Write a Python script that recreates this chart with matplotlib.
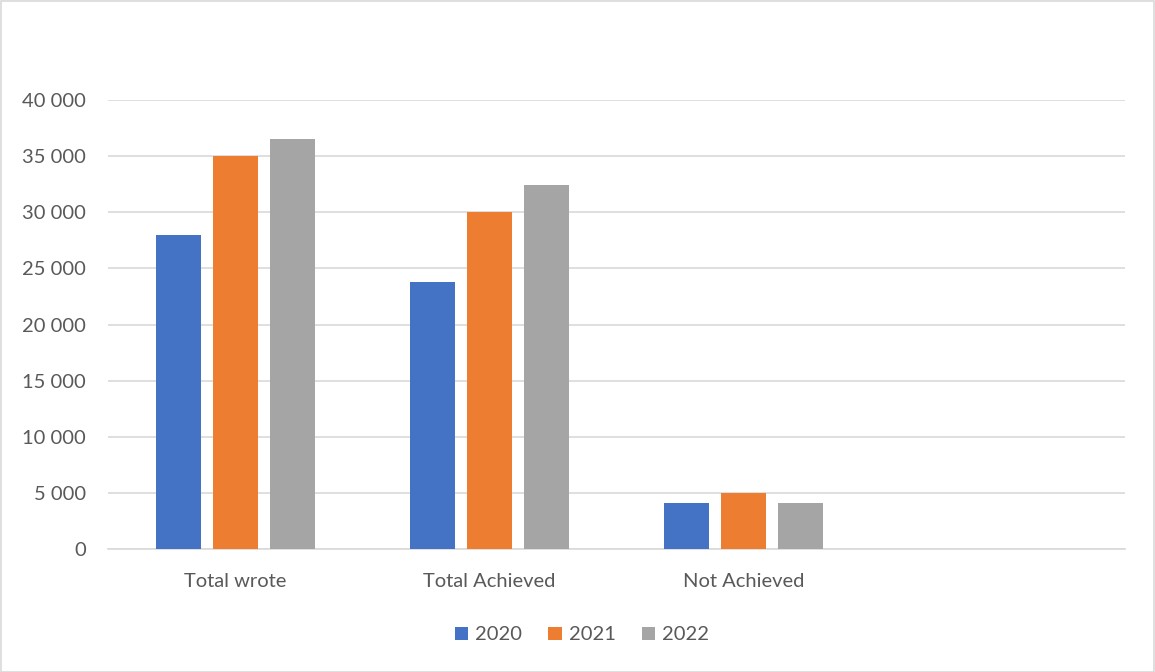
import matplotlib
matplotlib.use("Agg")
import matplotlib.pyplot as plt
import numpy as np
from matplotlib.ticker import FuncFormatter
from matplotlib.patches import Rectangle

categories = ["Total wrote", "Total Achieved", "Not Achieved", ""]
years = ["2020", "2021", "2022"]
v2020 = [27950, 23750, 4100, 0]
v2021 = [35050, 30000, 5000, 0]
v2022 = [36570, 32400, 4100, 0]
colors = ["#4472C4", "#ED7D31", "#A5A5A5"]

plt.rcParams['font.family'] = ['Lato', 'DejaVu Sans']
W, H = 1155, 672
fig = plt.figure(figsize=(W / 100, H / 100), dpi=100)
fig.patches.append(Rectangle((0.5 / W, 0.5 / H), 1 - 1.5 / W, 1 - 1.5 / H, transform=fig.transFigure,
                             fill=False, edgecolor="#D9D9D9", linewidth=1.2, zorder=10))
ax = fig.add_axes([108 / W, (H - 549) / H, (1125 - 108) / W, (549 - 100) / H])

x = np.arange(len(categories))
bw = 45 / 254
off = 57 / 254
series = [v2020, v2021, v2022]
for i, (vals, c, lab) in enumerate(zip(series, colors, years)):
    mask = [j for j in range(len(categories)) if categories[j]]
    ax.bar(x[mask] + (i - 1) * off, np.array(vals)[mask], width=bw, color=c, label=lab, zorder=3)

ax.set_xlim(-0.5, len(categories) - 0.5)
ax.set_ylim(0, 40000)
ax.set_yticks(np.arange(0, 40001, 5000))
ax.yaxis.set_major_formatter(FuncFormatter(lambda v, p: f"{int(v):,}".replace(",", " ")))
ax.set_xticks(x)
ax.set_xticklabels(categories)
ax.grid(axis="y", color="#D9D9D9", linewidth=1.2, zorder=0)
for s in ["top", "right", "left"]:
    ax.spines[s].set_visible(False)
ax.spines["bottom"].set_color("#D9D9D9")
ax.spines["bottom"].set_linewidth(1.2)
ax.tick_params(axis="y", length=0, pad=16, labelsize=14.5, labelcolor="#595959")
ax.tick_params(axis="x", length=0, pad=17, labelsize=14.5, labelcolor="#595959")

leg = fig.legend(loc="center", bbox_to_anchor=(582 / W, 1 - 635 / H), ncol=3, frameon=False,
                 fontsize=14.5, handlelength=0.65, handleheight=0.65, handletextpad=0.35, columnspacing=1.3)
for t in leg.get_texts():
    t.set_color("#595959")

fig.savefig("out.png", dpi=100)
